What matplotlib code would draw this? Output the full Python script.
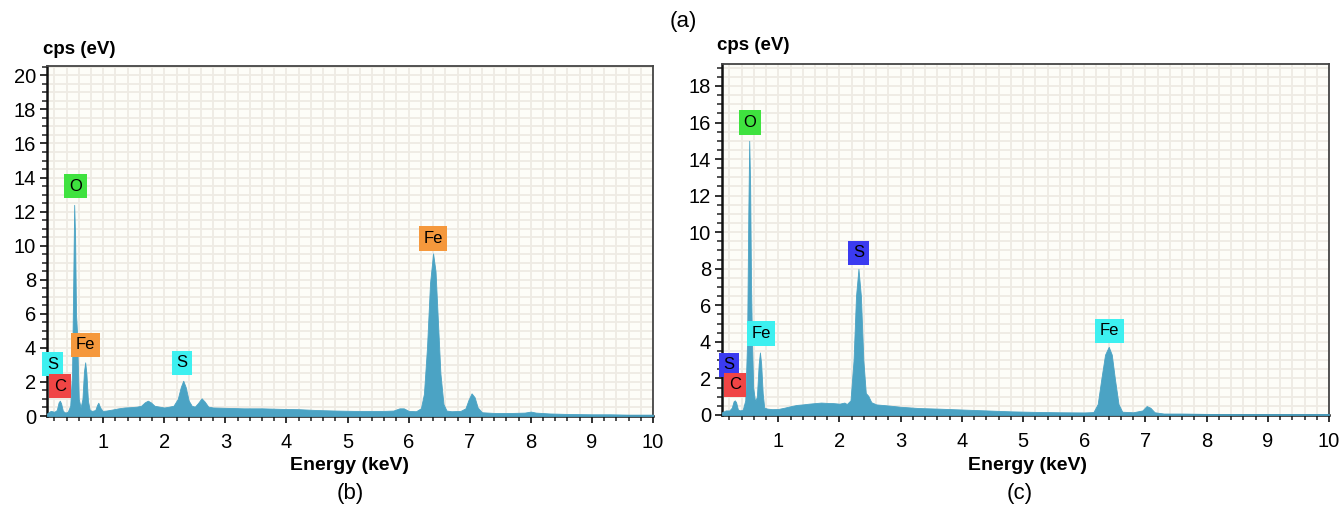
import matplotlib
matplotlib.use("Agg")
import matplotlib.pyplot as plt
from matplotlib.ticker import MultipleLocator, FixedLocator

plt.rcParams['font.family'] = ['Liberation Sans', 'DejaVu Sans']

# ---------------- data ----------------
energy_b = [0.08, 0.14, 0.20, 0.24, 0.27, 0.29, 0.31, 0.34, 0.38, 0.42, 0.46, 0.49, 0.51, 0.525,
            0.54, 0.555, 0.57, 0.585, 0.60, 0.63, 0.66, 0.685, 0.705, 0.725, 0.75, 0.78, 0.82,
            0.87, 0.90, 0.92, 0.95, 0.99, 1.05, 1.15, 1.25, 1.35, 1.45, 1.55, 1.62, 1.68, 1.73,
            1.78, 1.84, 1.92, 2.00, 2.08, 2.15, 2.22, 2.27, 2.31, 2.35, 2.40, 2.45, 2.50, 2.55,
            2.61, 2.66, 2.72, 2.80, 3.0, 3.3, 3.6, 3.9, 4.2, 4.5, 4.8, 5.1, 5.4, 5.6, 5.75,
            5.85, 5.92, 6.0, 6.12, 6.20, 6.25, 6.30, 6.35, 6.40, 6.44, 6.48, 6.52, 6.57, 6.62,
            6.7, 6.85, 6.93, 6.98, 7.03, 7.08, 7.13, 7.2, 7.4, 7.7, 7.9, 8.0, 8.08, 8.3, 8.6,
            9.0, 9.3, 9.6, 10.0]
cps_b = [0.15, 0.30, 0.25, 0.35, 0.80, 0.90, 0.75, 0.30, 0.20, 0.25, 0.60, 2.5, 8.0, 12.4,
         10.5, 6.0, 5.0, 3.0, 1.0, 0.5, 1.0, 2.6, 3.15, 2.5, 0.9, 0.35, 0.30,
         0.35, 0.65, 0.78, 0.50, 0.30, 0.32, 0.38, 0.45, 0.50, 0.52, 0.55, 0.60, 0.80, 0.90,
         0.80, 0.60, 0.55, 0.50, 0.55, 0.60, 1.0, 1.7, 2.07, 1.7, 0.9, 0.6, 0.55, 0.75,
         1.04, 0.85, 0.55, 0.50, 0.48, 0.45, 0.45, 0.42, 0.40, 0.35, 0.32, 0.30, 0.30, 0.30, 0.32,
         0.45, 0.45, 0.30, 0.28, 0.45, 1.3, 4.0, 7.8, 9.55, 8.5, 5.5, 2.5, 0.7, 0.32,
         0.28, 0.30, 0.45, 0.95, 1.33, 1.10, 0.5, 0.22, 0.18, 0.18, 0.20, 0.26, 0.20, 0.15, 0.12,
         0.10, 0.10, 0.08, 0.08]

energy_c = [0.08, 0.14, 0.20, 0.24, 0.27, 0.29, 0.31, 0.34, 0.38, 0.42, 0.46, 0.49, 0.51, 0.525,
            0.54, 0.555, 0.57, 0.59, 0.62, 0.65, 0.68, 0.70, 0.72, 0.745, 0.77, 0.82, 0.9, 1.0,
            1.1, 1.2, 1.3, 1.4, 1.5, 1.6, 1.7, 1.8, 1.9, 2.0, 2.08, 2.12, 2.18, 2.23, 2.27, 2.31,
            2.35, 2.39, 2.43, 2.47, 2.52, 2.6, 2.8, 3.0, 3.3, 3.6, 4.0, 4.4, 4.8, 5.2, 5.6, 6.0,
            6.15, 6.22, 6.28, 6.34, 6.40, 6.45, 6.50, 6.56, 6.62, 6.8, 6.95, 7.02, 7.08, 7.15,
            7.3, 7.6, 8.0, 8.5, 9.0, 9.5, 10.0]
cps_c = [0.15, 0.25, 0.25, 0.40, 0.75, 0.80, 0.70, 0.30, 0.25, 0.30, 0.80, 4.0, 11.0, 15.0,
         12.5, 7.0, 4.0, 1.5, 0.75, 1.0, 2.8, 3.42, 2.8, 1.2, 0.4, 0.35, 0.32, 0.33,
         0.40, 0.48, 0.55, 0.58, 0.62, 0.65, 0.68, 0.66, 0.65, 0.62, 0.68, 0.60, 0.80, 3.0, 6.5, 8.0,
         6.5, 3.0, 1.2, 1.05, 0.7, 0.58, 0.52, 0.45, 0.38, 0.35, 0.30, 0.25, 0.20, 0.17, 0.15, 0.14,
         0.16, 0.6, 2.0, 3.3, 3.73, 3.3, 2.0, 0.6, 0.18, 0.15, 0.25, 0.49, 0.40, 0.15,
         0.08, 0.08, 0.06, 0.05, 0.05, 0.05, 0.05]

# element markers: (text, energy, cps, colour)
labels_b = [("O", 0.546, 13.5, "#3fe23f"), ("Fe", 0.71, 4.17, "#f5983c"),
            ("S", 0.17, 3.05, "#3df0f0"), ("C", 0.295, 1.76, "#f04545"),
            ("S", 2.29, 3.13, "#3df0f0"), ("Fe", 6.40, 10.43, "#f5983c")]
labels_c = [("O", 0.535, 16.0, "#3fe23f"), ("Fe", 0.715, 4.46, "#3df0f0"),
            ("S", 0.19, 2.74, "#3b3bf0"), ("C", 0.29, 1.65, "#f04545"),
            ("S", 2.31, 8.87, "#3b3bf0"), ("Fe", 6.41, 4.6, "#3df0f0")]

x_ticks = [1, 2, 3, 4, 5, 6, 7, 8, 9, 10]

FILL = "#4ba3c4"
GRID = "#eeebe4"
BG = "#fdfdf8"

fig = plt.figure(figsize=(13.41, 5.08), dpi=100)
W, H = 1341, 508

def make_ax(x0, x1, ytop, ybot, energy, cps, labels, ymax, ymajor_max):
    ax = fig.add_axes([x0 / W, 1 - ybot / H, (x1 - x0) / W, (ybot - ytop) / H])
    ax.set_facecolor(BG)
    ax.fill_between(energy, cps, 0, color=FILL, lw=0.6, edgecolor=FILL, zorder=3)
    ax.set_xlim(0.08, 10)
    ax.set_ylim(0, ymax)
    ax.xaxis.set_major_locator(FixedLocator(x_ticks))
    ax.xaxis.set_minor_locator(MultipleLocator(0.2))
    ax.yaxis.set_major_locator(FixedLocator(list(range(0, ymajor_max + 1, 2))))
    ax.yaxis.set_minor_locator(MultipleLocator(0.5))
    ax.grid(which='both', axis='both', color=GRID, lw=1.3, zorder=1)
    ax.set_axisbelow(True)
    ax.tick_params(which='major', direction='out', length=5, width=1.3, labelsize=14.5,
                   pad=3, color='#222222')
    ax.tick_params(which='minor', direction='out', length=3.5, width=1.1, color='#222222')
    ax.tick_params(axis='x', which='major', pad=7)
    for s in ['left', 'bottom']:
        ax.spines[s].set_linewidth(1.8)
        ax.spines[s].set_color('#111111')
    for s in ['top', 'right']:
        ax.spines[s].set_linewidth(1.3)
        ax.spines[s].set_color('#444444')
    for txt, e, c, col in labels:
        ax.text(e, c, txt, ha='center', va='center', fontsize=12, color='black', zorder=5,
                bbox=dict(boxstyle='square,pad=0.28', facecolor=col, edgecolor='none'))
    return ax

ax_b = make_ax(47, 653, 66, 416, energy_b, cps_b, labels_b, 20.55, 20)
ax_c = make_ax(722, 1329, 64, 415, energy_c, cps_c, labels_c, 19.2, 18)

fig.text(43 / W, 1 - 50 / H, "cps (eV)", fontsize=13.5, fontweight='bold', ha='left', va='center')
fig.text(717 / W, 1 - 45 / H, "cps (eV)", fontsize=13.5, fontweight='bold', ha='left', va='center')
fig.text(350 / W, 1 - 465 / H, "Energy (keV)", fontsize=14, fontweight='bold', ha='center', va='center')
fig.text(1028 / W, 1 - 465 / H, "Energy (keV)", fontsize=14, fontweight='bold', ha='center', va='center')
fig.text(683 / W, 1 - 21 / H, "(a)", fontsize=16, ha='center', va='center')
fig.text(350 / W, 1 - 493 / H, "(b)", fontsize=16, ha='center', va='center')
fig.text(1020 / W, 1 - 493 / H, "(c)", fontsize=16, ha='center', va='center')

fig.savefig("out.png", dpi=100, facecolor='white')
